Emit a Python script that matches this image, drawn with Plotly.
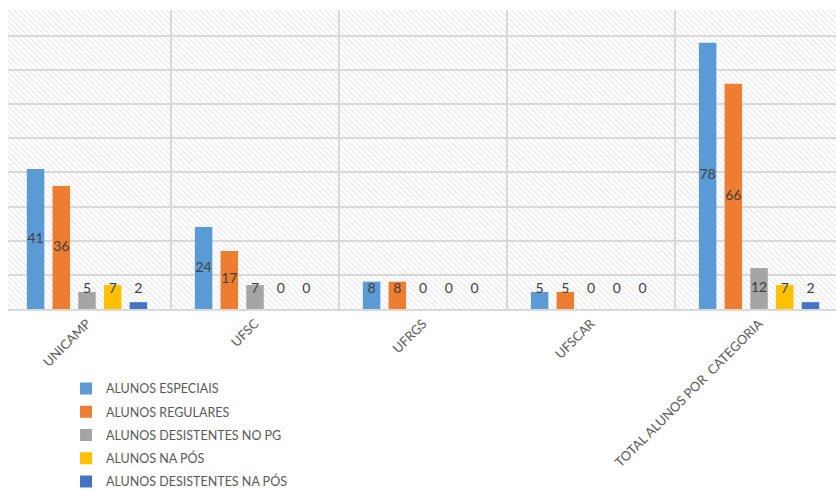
import plotly.graph_objects as go

categories = ["UNICAMP", "UFSC", "UFRGS", "UFSCAR", "TOTAL ALUNOS POR\u00a0 CATEGORIA"]
series_names = ["ALUNOS ESPECIAIS", "ALUNOS REGULARES", "ALUNOS DESISTENTES NO PG",
                "ALUNOS NA PÓS", "ALUNOS DESISTENTES NA PÓS"]
especiais = [41, 24, 8, 5, 78]
regulares = [36, 17, 8, 5, 66]
desist_pg = [5, 7, 0, 0, 12]
na_pos = [7, 0, 0, 0, 7]
desist_pos = [2, 0, 0, 0, 2]
series_values = [especiais, regulares, desist_pg, na_pos, desist_pos]
colors = ["#5B9BD5", "#ED7D31", "#A5A5A5", "#FFC000", "#4472C4"]

FONT = "Lato"
LABEL_MIN = 5.6
BARGAP = 0.235

fig = go.Figure()

# decorative hatched plot background
fig.add_trace(go.Bar(
    x=[0.5], y=[1], width=[1], base=[0], xaxis="x", yaxis="y",
    marker=dict(color="rgba(0,0,0,0)", line=dict(width=0),
                pattern=dict(shape="\\", fgcolor="#D6D6D6", bgcolor="rgba(0,0,0,0)",
                             size=4, solidity=0.35)),
    showlegend=False, hoverinfo="skip"))

for i, (name, vals, col) in enumerate(zip(series_names, series_values, colors)):
    fig.add_trace(go.Bar(
        x=categories, y=vals, name=name, marker=dict(color=col, line=dict(width=0)),
        xaxis="x2", yaxis="y2", legendgroup=name, hoverinfo="skip"))

for i, (name, vals) in enumerate(zip(series_names, series_values)):
    fig.add_trace(go.Scatter(
        x=categories, y=[max(v / 2, LABEL_MIN) for v in vals], text=[str(v) for v in vals],
        mode="text", textposition="middle center",
        textfont=dict(family=FONT, size=14, color="#404040"),
        xaxis="x2", yaxis="y2", showlegend=False, hoverinfo="skip", cliponaxis=False))

fig.update_layout(
    width=836, height=490,
    margin=dict(l=8, r=0, t=10, b=181, autoexpand=False),
    paper_bgcolor="white", plot_bgcolor="white",
    barmode="group", bargap=BARGAP, bargroupgap=0.32,
    scattermode="group", scattergap=BARGAP,
    font=dict(family=FONT, color="#595959", size=13),
    xaxis=dict(range=[0, 1], visible=False, showgrid=False, zeroline=False),
    yaxis=dict(range=[0, 1], visible=False, showgrid=False, zeroline=False),
    xaxis2=dict(overlaying="x", anchor="y2", side="bottom", type="category",
                range=[-0.4702, 4.458], tickson="boundaries", showgrid=True,
                gridcolor="#D9D9D9", gridwidth=1.5, ticks="", tickangle=-45,
                showline=True, linecolor="#D9D9D9", linewidth=2, automargin=False,
                tickfont=dict(family=FONT, size=13, color="#595959")),
    yaxis2=dict(overlaying="y", anchor="x2", side="left", range=[0, 87.6], dtick=10,
                showgrid=True, gridcolor="#D9D9D9", gridwidth=1.5, zeroline=False,
                showticklabels=False, ticks="", automargin=False),
    legend=dict(orientation="v", xref="container", yref="container",
                x=0.079, xanchor="left", y=0.237, yanchor="top",
                font=dict(family=FONT, size=12.5, color="#595959"),
                tracegroupgap=4, bgcolor="rgba(0,0,0,0)"),
)

fig.write_html("out.html")
